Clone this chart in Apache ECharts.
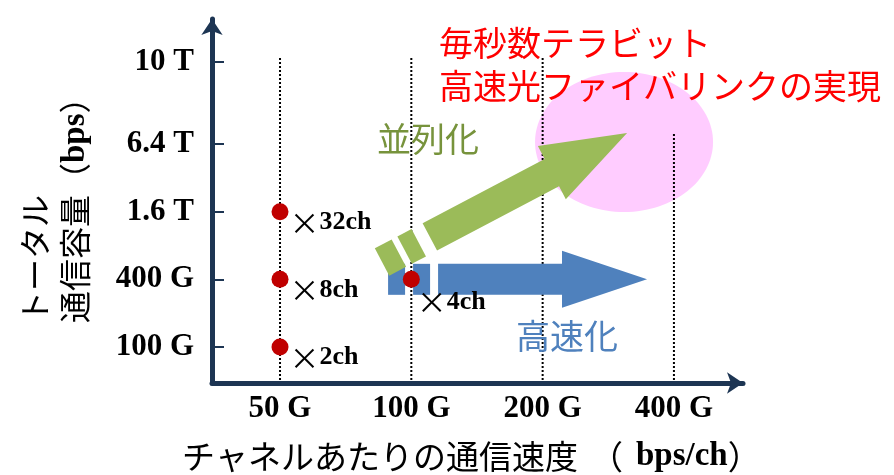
<!DOCTYPE html>
<html>
<head>
<meta charset="utf-8">
<script src="https://cdn.jsdelivr.net/npm/echarts@6/dist/echarts.min.js"></script>
<style>
  html, body { margin: 0; padding: 0; background: #fff; }
  #main { width: 894px; height: 475px; }
</style>
</head>
<body>
<div id="main"></div>
<script>
// x axis: rate per channel, one step per doubling
const xLabels = ['50 G', '100 G', '200 G', '400 G'];
const xTicks = [0, 1, 2, 3];

// y axis: total capacity, one step per x4 (10 T sits just above 6.4 T)
const yLabels = ['100 G', '400 G', '1.6 T', '6.4 T', '10 T'];
const yTicks = [0, 1, 2, 3, 4.21];

// red dots (x index, y step) and their channel counts
const pointX = [0, 0, 0, 1];
const pointY = [2, 1, 0, 1];
const pointLabels = ['×32ch', '×8ch', '×2ch', '×4ch'];

// top end of each dotted guide line
const guideTop = [4.3, 4.3, 4.3, 3.16];

// arrows [start, tip] and the goal ellipse centre, in axis units
const blueArrow = [[0.823, 1], [2.795, 1]];
const greenArrow = [[0.777, 1.256], [2.643, 3.162]];
const goalCenter = [2.62, 3.03];

const X_MIN = -0.518, X_MAX = 3.526;
const Y_MIN = -0.532, Y_MAX = 4.847;

const navy = '#1d3553';
const serif = "'Liberation Serif', 'Times New Roman', serif";
const jp = "'Noto Sans CJK JP', sans-serif";

const chart = echarts.init(document.getElementById('main'));

// arrow built from a few shaft pieces plus the main shaft and head (pixel sizes)
function arrowRender(pts, opt) {
  return function (params, api) {
    const a = api.coord(pts[0]);
    const b = api.coord(pts[1]);
    const dx = b[0] - a[0], dy = b[1] - a[1];
    const len = Math.hypot(dx, dy);
    const ux = dx / len, uy = dy / len;
    const nx = -uy, ny = ux;
    const P = (s, w) => [a[0] + ux * s + nx * w, a[1] + uy * s + ny * w];
    const hw = opt.shaft / 2, hh = opt.head / 2;
    const base = len - opt.headLen;
    const children = opt.pieces.map(([s0, s1]) => ({
      type: 'polygon',
      shape: { points: [P(s0, -hw), P(s1, -hw), P(s1, hw), P(s0, hw)] },
      style: { fill: opt.color }
    }));
    children.push({
      type: 'polygon',
      shape: {
        points: [P(opt.mainStart, -hw), P(base, -hw), P(base, -hh), P(len, 0),
                 P(base, hh), P(base, hw), P(opt.mainStart, hw)]
      },
      style: { fill: opt.color }
    });
    return { type: 'group', children: children };
  };
}

const textStyle = (extra) => Object.assign({
  align: 'left', verticalAlign: 'middle', textAlign: 'left', textVerticalAlign: 'middle'
}, extra);

const option = {
  animation: false,
  grid: { left: 212, right: 151, top: 19, bottom: 92, outerBoundsMode: 'none' },
  xAxis: {
    type: 'value',
    min: X_MIN,
    max: X_MAX,
    axisLine: {
      show: true,
      onZero: false,
      symbol: ['none', 'arrow'],
      symbolSize: [16, 16],
      lineStyle: { color: navy, width: 5, cap: 'round' }
    },
    axisTick: { show: false },
    splitLine: { show: false },
    axisLabel: {
      customValues: xTicks,
      formatter: v => xLabels[xTicks.findIndex(t => Math.abs(t - v) < 1e-6)],
      margin: 10,
      color: '#000',
      fontFamily: serif,
      fontWeight: 'bold',
      fontSize: 31
    }
  },
  yAxis: {
    type: 'value',
    min: Y_MIN,
    max: Y_MAX,
    axisLine: {
      show: true,
      onZero: false,
      symbol: ['none', 'arrow'],
      symbolSize: [16, 16],
      lineStyle: { color: navy, width: 5, cap: 'round' }
    },
    axisTick: {
      show: true,
      inside: true,
      length: 12,
      customValues: yTicks,
      lineStyle: { color: navy, width: 2 }
    },
    splitLine: { show: false },
    axisLabel: {
      customValues: yTicks,
      formatter: v => yLabels[yTicks.findIndex(t => Math.abs(t - v) < 1e-6)],
      margin: 18,
      color: '#000',
      fontFamily: serif,
      fontWeight: 'bold',
      fontSize: 31
    }
  },
  series: [
    {
      // pink goal area
      type: 'custom',
      z: 1,
      data: [goalCenter],
      renderItem: (params, api) => {
        const c = api.coord([api.value(0), api.value(1)]);
        return {
          type: 'ellipse',
          shape: { cx: c[0], cy: c[1], rx: 89, ry: 70 },
          style: { fill: '#ffccff' }
        };
      }
    },
    {
      // dotted guide lines
      type: 'custom',
      z: 2,
      data: xTicks.map((x, i) => [x, guideTop[i]]),
      renderItem: (params, api) => {
        const p0 = api.coord([api.value(0), Y_MIN]);
        const p1 = api.coord([api.value(0), api.value(1)]);
        return {
          type: 'line',
          shape: { x1: p0[0], y1: p0[1] - 3, x2: p1[0], y2: p1[1] },
          style: { stroke: '#000', lineWidth: 2, lineDash: [2, 2] }
        };
      }
    },
    {
      type: 'custom',
      z: 3,
      data: [blueArrow[0]],
      renderItem: arrowRender(blueArrow, {
        color: '#4f81bd', shaft: 31, head: 57, headLen: 85,
        pieces: [[0, 17], [25, 42]], mainStart: 50
      })
    },
    {
      type: 'custom',
      z: 4,
      data: [greenArrow[0]],
      renderItem: arrowRender(greenArrow, {
        color: '#9bbb59', shaft: 31, head: 60, headLen: 85,
        pieces: [[0, 19], [25.5, 41.5]], mainStart: 54
      })
    },
    {
      type: 'scatter',
      z: 5,
      symbol: 'circle',
      symbolSize: 17,
      itemStyle: { color: '#c00000', opacity: 1 },
      data: pointX.map((x, i) => ({
        value: [x, pointY[i]],
        label: { position: i === 3 ? [14, 31] : [18, 19] }
      })),
      label: {
        show: true,
        align: 'left',
        verticalAlign: 'middle',
        opacity: 1,
        formatter: p => '{m|×}{b|' + pointLabels[p.dataIndex].slice(1) + '}',
        rich: {
          m: { fontFamily: jp, fontSize: 30, color: '#000' },
          b: { fontFamily: serif, fontWeight: 'bold', fontSize: 26, color: '#000' }
        }
      }
    }
  ],
  graphic: [
    {
      type: 'text', x: 439, y: 43, z: 10,
      style: textStyle({ text: '毎秒数テラビット', fill: '#ff0000', font: '34px ' + jp })
    },
    {
      type: 'text', x: 439, y: 86, z: 10,
      style: textStyle({ text: '高速光ファイバリンクの実現', fill: '#ff0000', font: '34px ' + jp })
    },
    {
      type: 'text', x: 377, y: 139, z: 10,
      style: textStyle({ text: '並列化', fill: '#77933c', font: '34px ' + jp })
    },
    {
      type: 'text', x: 516, y: 336, z: 10,
      style: textStyle({ text: '高速化', fill: '#4f81bd', font: '34px ' + jp })
    },
    {
      // y axis title, rotated
      type: 'text', x: 55, y: 323, rotation: Math.PI / 2, z: 10,
      style: textStyle({
        text: 'トータル\n通信容量（{b|bps}）',
        fill: '#000', font: '32px ' + jp, lineHeight: 40,
        rich: { b: { fontFamily: serif, fontWeight: 'bold', fontSize: 33, lineHeight: 40 } }
      })
    },
    {
      // x axis title
      type: 'text', x: 182, y: 456, z: 10,
      style: textStyle({ text: 'チャネルあたりの通信速度', fill: '#000', font: '33px ' + jp })
    },
    {
      type: 'text', x: 590, y: 456, z: 10,
      style: textStyle({ text: '（', fill: '#000', font: '33px ' + jp })
    },
    {
      type: 'text', x: 636, y: 456, z: 10,
      style: textStyle({
        text: '{b|bps/ch}）',
        fill: '#000', font: '33px ' + jp,
        rich: { b: { fontFamily: serif, fontWeight: 'bold', fontSize: 33 } }
      })
    }
  ]
};

chart.setOption(option);
</script>
</body>
</html>
